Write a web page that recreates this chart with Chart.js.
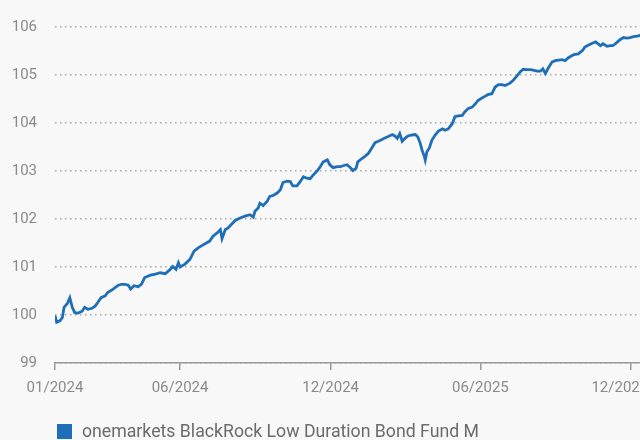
<!DOCTYPE html>
<html>
<head>
<meta charset="utf-8">
<script src="https://cdn.jsdelivr.net/npm/chart.js@4"></script>
<style>
  html, body { margin: 0; padding: 0; background: #f8f8f8; }
  #wrap { position: relative; width: 640px; height: 440px; }
  #legend {
    position: absolute; left: 57px; top: 421px;
    font: 17.7px Roboto, "DejaVu Sans", sans-serif; color: #6b6b6b;
    display: flex; align-items: center; white-space: nowrap;
  }
  #legend span.box { display: inline-block; width: 15px; height: 15px; background: #1e6fb7; margin-right: 10px; }
</style>
</head>
<body>
<div id="wrap">
  <canvas id="chart" width="640" height="440"></canvas>
  <div id="legend"><span class="box"></span><span id="legendText"></span></div>
</div>
<script>
const seriesName = "onemarkets BlackRock Low Duration Bond Fund M";

// days since 01/01/2024
const days = [0, 2, 6, 9, 11, 15, 18, 21, 24, 28, 33, 36, 40, 45, 49, 52, 56, 61, 64, 69, 73, 77, 81, 85, 89, 92, 96, 101, 105, 109,
  116, 122, 128, 134, 140, 143, 147, 150, 152, 158, 164, 169, 174, 179, 184, 188, 192, 197, 201, 203, 207, 210, 214, 219,
  225, 231, 237, 241, 243, 247, 249, 253, 258, 261, 265, 270, 274, 277, 282, 286, 289, 294, 298, 302, 306, 310, 314, 319,
  322, 326, 331, 334, 338, 343, 347, 350, 355, 359, 362, 366, 368, 373, 377, 381, 385, 389, 393, 398, 401, 405, 410, 413,
  416, 419, 422, 426, 429, 434, 438, 441, 444, 446, 449, 450, 452, 455, 458, 462, 466, 471, 474, 478, 483, 486, 490, 495,
  498, 502, 507, 511, 514, 519, 523, 526, 531, 535, 539, 543, 547, 553, 557, 562, 565, 569, 574, 578, 581, 586, 590, 593,
  596, 599, 604, 608, 612, 616, 620, 624, 629, 632, 636, 641, 644, 648, 653, 657, 663, 666, 671, 675, 678, 683, 687, 691,
  695, 699, 703, 708, 711];

const values = [99.99, 99.85, 99.88, 99.95, 100.16, 100.24, 100.36, 100.16, 100.05, 100.04, 100.08, 100.16, 100.12, 100.14, 100.19,
  100.26, 100.36, 100.40, 100.47, 100.52, 100.57, 100.62, 100.64, 100.64, 100.62, 100.54, 100.61, 100.59, 100.64, 100.78,
  100.83, 100.85, 100.88, 100.86, 100.95, 101.01, 100.95, 101.09, 101.00, 101.06, 101.16, 101.33, 101.40, 101.45, 101.50,
  101.54, 101.64, 101.71, 101.78, 101.59, 101.78, 101.81, 101.88, 101.97, 102.02, 102.06, 102.09, 102.04, 102.16, 102.23,
  102.33, 102.28, 102.37, 102.47, 102.49, 102.54, 102.61, 102.76, 102.79, 102.78, 102.69, 102.69, 102.78, 102.88, 102.85,
  102.84, 102.92, 103.01, 103.08, 103.19, 103.23, 103.13, 103.07, 103.09, 103.09, 103.11, 103.13, 103.07, 103.01, 103.06,
  103.19, 103.26, 103.31, 103.37, 103.48, 103.59, 103.62, 103.66, 103.69, 103.72, 103.76, 103.73, 103.68, 103.78, 103.62,
  103.69, 103.73, 103.75, 103.76, 103.71, 103.57, 103.44, 103.30, 103.23, 103.40, 103.48, 103.64, 103.75, 103.83, 103.88,
  103.85, 103.88, 103.99, 104.13, 104.15, 104.16, 104.23, 104.30, 104.33, 104.40, 104.47, 104.52, 104.56, 104.59, 104.61,
  104.75, 104.80, 104.80, 104.78, 104.83, 104.89, 104.99, 105.06, 105.12, 105.11, 105.11, 105.10, 105.08, 105.08, 105.13,
  105.03, 105.13, 105.27, 105.30, 105.31, 105.32, 105.30, 105.36, 105.41, 105.43, 105.44, 105.51, 105.58, 105.62, 105.66,
  105.69, 105.61, 105.65, 105.60, 105.61, 105.61, 105.68, 105.74, 105.78, 105.77, 105.78, 105.80, 105.81, 105.83];

const tickDays = [0, 152, 335, 517, 700];
const tickLabels = ["01/2024", "06/2024", "12/2024", "06/2025", "12/2025"];

document.getElementById("legendText").textContent = seriesName;

const fontFamily = "Roboto, 'DejaVu Sans', sans-serif";

new Chart(document.getElementById("chart"), {
  type: "line",
  data: {
    datasets: [{
      label: seriesName,
      data: days.map((d, i) => ({ x: d, y: values[i] })),
      borderColor: "#1e6fb7",
      borderWidth: 2.8,
      pointRadius: 0,
      tension: 0,
      fill: false,
    }],
  },
  options: {
    responsive: false,
    animation: false,
    layout: { padding: { top: 24, right: 0, bottom: 37, left: 0 } },
    plugins: {
      legend: { display: false },
      tooltip: { enabled: false },
    },
    scales: {
      x: {
        type: "linear",
        min: 0,
        max: 711,
        afterBuildTicks: (scale) => { scale.ticks = tickDays.map(v => ({ value: v })); },
        afterFit: (scale) => { scale.height = 40; scale.paddingLeft = 0; scale.paddingRight = 0; },
        ticks: {
          autoSkip: false,
          maxRotation: 0,
          padding: 9,
          color: "#8a8a8a",
          font: { family: fontFamily, size: 15 },
          // last label sits a little left of its tick, as in the original
          callback: (value, index) => index === tickLabels.length - 1 ? tickLabels[index] + "      " : tickLabels[index],
        },
        grid: { drawOnChartArea: false, drawTicks: true, tickLength: 7, color: "#9a9a9a", lineWidth: 1.5 },
        border: { display: true, color: "#9a9a9a", width: 1.5 },
      },
      y: {
        min: 99,
        max: 106,
        afterFit: (scale) => { scale.width = 55; },
        ticks: {
          stepSize: 1,
          padding: 18,
          color: "#8a8a8a",
          font: { family: fontFamily, size: 15 },
        },
        grid: { drawTicks: false, color: "#a8a8a8", lineWidth: 1.5 },
        border: { display: false, dash: [1.5, 3.5] },
      },
    },
  },
});
</script>
</body>
</html>
